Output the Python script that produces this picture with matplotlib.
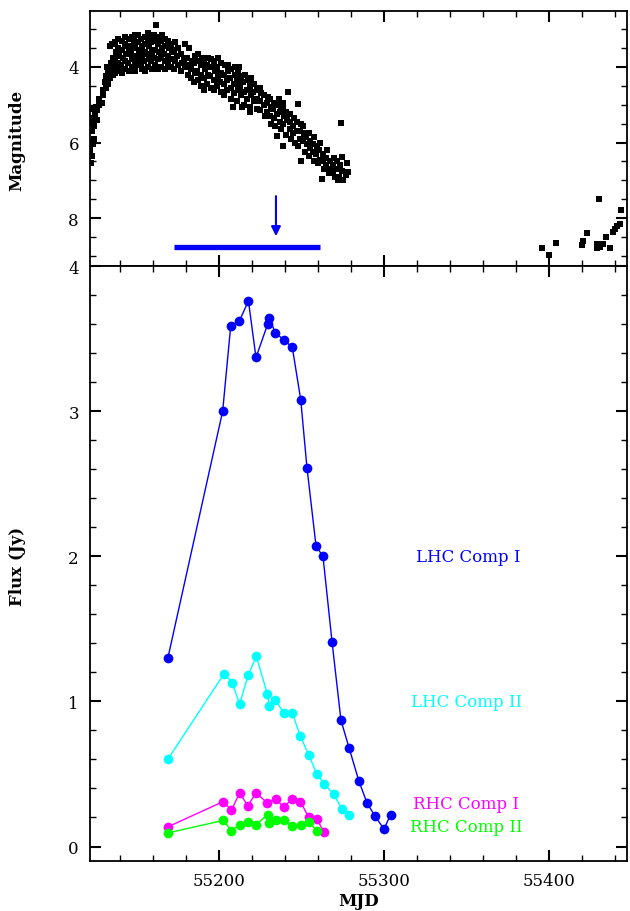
import numpy as np
import matplotlib.pyplot as plt
from matplotlib.ticker import MultipleLocator, FixedLocator

plt.rcParams['font.family'] = ['DejaVu Serif']

# optical light curve (MJD, magnitude)
rise_pts = [
    (55122.1, 6.55), (55121.9, 6.2), (55122.6, 5.95), (55122.3, 5.5),
    (55123.1, 6.35), (55123.4, 6.05), (55122.9, 5.7), (55123.6, 5.35), (55123.2, 5.1),
    (55124.5, 5.9), (55124.2, 5.55), (55124.9, 5.25), (55125.3, 5.05),
    (55126.1, 5.4), (55125.8, 5.15), (55127.5, 5.0), (55127.2, 4.85),
    (55129.3, 4.95), (55129.8, 4.75), (55129.6, 4.6),
    (55131.2, 4.55), (55130.7, 4.4), (55131.4, 4.25),
    (55132.4, 4.45), (55132.8, 4.15), (55132.3, 4.0),
    (55134.1, 4.3), (55133.8, 4.05), (55134.4, 3.9), (55134.2, 3.45),
    (55135.6, 4.2), (55135.3, 3.95), (55135.9, 3.75), (55135.4, 3.4),
]
peak_pts = [
    (55137.0, 4.15), (55137.4, 4.0), (55136.8, 3.85), (55137.6, 3.6), (55137.2, 3.35),
    (55139.1, 4.1), (55138.7, 3.9), (55139.4, 3.7), (55139.0, 3.5), (55138.8, 3.25),
    (55141.2, 4.15), (55140.8, 3.95), (55141.5, 3.75), (55141.0, 3.55), (55141.3, 3.3),
    (55143.1, 4.05), (55142.7, 3.85), (55143.4, 3.65), (55143.0, 3.4), (55142.8, 3.2),
    (55145.2, 4.1), (55144.8, 3.9), (55145.4, 3.6), (55145.0, 3.45), (55145.3, 3.25),
    (55147.0, 4.0), (55147.3, 3.8), (55146.8, 3.65), (55147.5, 3.45), (55147.1, 3.2),
    (55149.2, 4.1), (55148.8, 3.85), (55149.4, 3.7), (55149.0, 3.5), (55148.7, 3.3), (55149.3, 3.15),
    (55151.1, 3.95), (55150.8, 3.75), (55151.4, 3.55), (55151.0, 3.35), (55150.7, 3.15),
    (55153.2, 4.05), (55152.9, 3.9), (55153.4, 3.7), (55153.0, 3.45), (55152.8, 3.25),
    (55155.1, 4.1), (55154.8, 3.85), (55155.3, 3.6), (55155.0, 3.4), (55155.4, 3.2),
    (55157.0, 4.0), (55157.3, 3.8), (55156.8, 3.65), (55157.5, 3.45), (55157.1, 3.25), (55156.9, 3.1),
    (55159.2, 4.05), (55158.8, 3.85), (55159.4, 3.6), (55159.0, 3.35), (55158.7, 3.2),
    (55161.1, 3.95), (55160.8, 3.75), (55161.4, 3.55), (55161.0, 3.3), (55160.7, 3.15),
    (55162.0, 2.9),
    (55163.2, 4.05), (55162.9, 3.8), (55163.4, 3.6), (55163.0, 3.4), (55162.8, 3.2),
    (55165.1, 4.0), (55164.8, 3.75), (55165.3, 3.5), (55165.0, 3.3), (55165.4, 3.15),
    (55167.0, 4.05), (55167.3, 3.85), (55166.8, 3.65), (55167.5, 3.45), (55167.1, 3.25),
    (55169.2, 3.95), (55168.8, 3.7), (55169.4, 3.5), (55169.0, 3.3),
    (55171.1, 4.0), (55170.8, 3.8), (55171.4, 3.6), (55171.0, 3.4),
    (55173.0, 4.05), (55173.3, 3.85), (55172.8, 3.55), (55173.4, 3.35),
    (55175.1, 3.95), (55174.8, 3.7), (55175.4, 3.5),
    (55177.0, 4.1), (55177.3, 3.9), (55176.8, 3.65),
    (55179.2, 4.0), (55178.8, 3.8), (55179.4, 3.4),
    (55181.0, 4.2), (55181.3, 3.95), (55180.8, 3.75), (55181.5, 3.5),
    (55183.1, 4.3), (55182.8, 4.05), (55183.4, 3.85),
    (55185.0, 4.4), (55185.3, 4.15), (55184.8, 3.9), (55185.5, 3.7),
    (55187.2, 4.35), (55186.9, 4.1), (55187.4, 3.85), (55187.0, 3.65),
]
decline_pts = [
    (55189.0, 4.5), (55189.3, 4.2), (55188.8, 3.95), (55189.5, 3.75),
    (55191.1, 4.6), (55190.8, 4.3), (55191.4, 4.05), (55191.0, 3.8),
    (55193.0, 4.45), (55193.3, 4.2), (55192.8, 3.95), (55193.5, 3.75),
    (55195.1, 4.55), (55194.8, 4.25), (55195.4, 4.0), (55195.0, 3.8),
    (55197.2, 4.6), (55196.9, 4.35), (55197.4, 4.1), (55197.0, 3.85),
    (55199.0, 4.5), (55199.3, 4.25), (55198.8, 4.0), (55199.5, 3.75),
    (55201.1, 4.65), (55200.8, 4.4), (55201.4, 4.15), (55201.0, 3.9),
    (55203.0, 4.75), (55203.3, 4.45), (55202.8, 4.2), (55203.5, 3.95),
    (55205.1, 4.6), (55204.8, 4.35), (55205.4, 4.1), (55205.6, 3.95),
    (55207.0, 4.85), (55207.3, 4.55), (55206.8, 4.3), (55207.5, 4.05),
    (55209.1, 4.7), (55208.8, 4.45), (55209.4, 4.2), (55209.6, 4.0),
    (55208.5, 5.06),
    (55211.0, 4.9), (55211.3, 4.6), (55210.8, 4.35), (55211.5, 4.15), (55211.8, 4.0),
    (55213.1, 4.75), (55212.8, 4.5), (55213.4, 4.25),
    (55213.9, 5.06),
    (55215.0, 5.0), (55215.3, 4.65), (55214.8, 4.4), (55215.5, 4.2),
    (55217.1, 4.85), (55216.8, 4.6), (55217.4, 4.35),
    (55218.8, 5.19),
    (55219.0, 5.05), (55219.3, 4.75), (55218.7, 4.5), (55219.5, 4.3),
    (55221.1, 4.9), (55220.8, 4.65), (55221.4, 4.45),
    (55223.0, 5.1), (55223.3, 4.85), (55222.8, 4.6),
    (55225.1, 5.15), (55224.8, 4.9), (55225.4, 4.7), (55225.0, 4.55),
    (55227.0, 5.0), (55227.3, 4.75), (55227.6, 5.3),
    (55229.1, 5.2), (55228.8, 4.95), (55229.4, 4.8),
    (55231.0, 5.3), (55231.3, 5.05), (55230.8, 4.85), (55231.5, 5.5),
    (55233.1, 5.35), (55232.8, 5.1), (55233.4, 4.95), (55234.0, 5.55),
    (55235.0, 5.25), (55235.3, 5.0), (55235.1, 5.83), (55236.2, 4.85),
    (55237.1, 5.45), (55236.8, 5.2), (55237.4, 5.05), (55237.8, 5.65),
    (55238.8, 6.09), (55238.5, 4.95),
    (55239.0, 5.5), (55239.3, 5.3), (55238.7, 5.1),
    (55241.1, 5.4), (55240.8, 5.2), (55240.5, 5.8),
    (55241.8, 4.66),
    (55243.0, 5.65), (55243.3, 5.45), (55242.8, 5.25), (55243.5, 5.9),
    (55245.1, 5.75), (55244.8, 5.55), (55245.4, 5.35), (55246.0, 6.0),
    (55247.0, 5.7), (55247.3, 5.45), (55248.0, 6.1),
    (55247.9, 4.98),
    (55249.1, 5.9), (55248.8, 5.7), (55249.4, 5.5),
    (55249.7, 6.49),
    (55251.0, 5.95), (55251.3, 5.75), (55250.8, 5.55), (55252.0, 6.25),
    (55253.1, 6.05), (55252.8, 5.85), (55254.5, 6.35),
    (55255.0, 6.15), (55255.3, 5.95), (55254.8, 5.75),
    (55257.1, 6.25), (55256.8, 6.05), (55257.4, 5.85), (55257.5, 6.5),
    (55259.0, 6.3), (55259.3, 6.1), (55260.0, 6.55),
    (55261.1, 6.45), (55260.8, 6.2), (55261.4, 6.0),
    (55262.4, 6.97),
    (55263.0, 6.5), (55263.3, 6.3), (55263.8, 6.7),
    (55265.1, 6.6), (55264.8, 6.4), (55265.4, 6.2),
    (55267.0, 6.7), (55267.3, 6.5), (55266.5, 6.8),
    (55269.1, 6.8), (55268.8, 6.6), (55269.4, 6.4),
    (55271.0, 6.7), (55271.3, 6.5), (55270.0, 6.9),
    (55272.1, 6.99),
    (55273.0, 6.9), (55273.3, 6.6), (55273.9, 5.48),
    (55274.5, 6.39),
    (55275.1, 7.0), (55274.8, 6.75),
    (55277.0, 6.85), (55277.3, 6.55),
    (55278.2, 6.78),
]
late_pts = [
    (55395.6, 8.80), (55400.2, 8.98), (55404.2, 8.65),
    (55420.0, 8.71), (55420.8, 8.62), (55422.8, 8.40),
    (55429.0, 8.69), (55429.0, 8.80), (55430.1, 7.49), (55431.0, 8.76),
    (55433.0, 8.69), (55434.6, 8.51), (55437.0, 8.80), (55438.6, 8.38),
    (55440.0, 8.29), (55441.4, 8.21), (55443.0, 8.16), (55443.6, 7.79),
]

# maser peak flux densities (Jy)
lhc1_mjd = [55169.0, 55202.2, 55207.1, 55212.3, 55217.8, 55222.4, 55229.5, 55230.5,
            55234.1, 55239.4, 55244.4, 55249.5, 55253.3, 55258.8, 55263.0, 55268.5,
            55273.9, 55278.8, 55284.8, 55289.7, 55294.5, 55300.0, 55304.0]
lhc1_flux = [1.30, 3.00, 3.59, 3.62, 3.76, 3.37, 3.60, 3.64,
             3.54, 3.49, 3.44, 3.08, 2.61, 2.07, 2.00, 1.41,
             0.87, 0.68, 0.45, 0.30, 0.21, 0.12, 0.22]

lhc2_mjd = [55168.9, 55203.0, 55208.0, 55212.5, 55217.6, 55222.6, 55229.3, 55230.5,
            55234.0, 55239.4, 55244.4, 55249.3, 55254.4, 55259.2, 55263.8, 55269.5,
            55274.5, 55279.0]
lhc2_flux = [0.60, 1.19, 1.13, 0.98, 1.18, 1.31, 1.05, 0.97,
             1.01, 0.92, 0.92, 0.76, 0.63, 0.50, 0.43, 0.36,
             0.26, 0.22]

rhc1_mjd = [55168.9, 55202.6, 55207.5, 55212.5, 55217.4, 55222.4, 55229.3, 55234.4,
            55239.2, 55244.4, 55249.3, 55254.4, 55259.2, 55263.6]
rhc1_flux = [0.135, 0.31, 0.25, 0.37, 0.28, 0.37, 0.30, 0.33,
             0.27, 0.33, 0.31, 0.20, 0.19, 0.10]

rhc2_mjd = [55169.1, 55202.6, 55207.5, 55212.5, 55217.4, 55222.4, 55229.5, 55230.5,
            55234.4, 55239.4, 55244.4, 55249.5, 55254.4, 55259.2]
rhc2_flux = [0.094, 0.18, 0.11, 0.15, 0.17, 0.15, 0.22, 0.16,
             0.18, 0.18, 0.14, 0.15, 0.17, 0.11]

# observing window and marker
span_mjd = [55172.7, 55261.0]
span_mag = 8.77
arrow_mjd = 55234.5
arrow_mag = [7.42, 8.48]

labels = ['LHC Comp I', 'LHC Comp II', 'RHC Comp I', 'RHC Comp II']
label_pos = [(55350.9, 2.0), (55350.3, 1.0), (55349.7, 0.297), (55349.7, 0.138)]
colors = ['#0000ff', '#00ffff', '#ff00ff', '#00ff00']

fig = plt.figure(figsize=(6.3, 9.12), dpi=100)
ax1 = fig.add_axes([0.1429, 0.7072, 0.8524, 0.2796])
ax2 = fig.add_axes([0.1429, 0.0548, 0.8524, 0.6524])

opt = rise_pts + peak_pts + decline_pts + late_pts
opt_mjd = [p[0] for p in opt]
opt_mag = [p[1] for p in opt]
ax1.plot(opt_mjd, opt_mag, 's', color='black', ms=4.6, mew=0)
ax1.plot(span_mjd, [span_mag, span_mag], color='#0000ff', lw=3.8, solid_capstyle='butt')
ax1.annotate('', xy=(arrow_mjd, arrow_mag[1]), xytext=(arrow_mjd, arrow_mag[0]),
             arrowprops=dict(arrowstyle='-|>', color='#0000ff', lw=1.5,
                             mutation_scale=14, shrinkA=0, shrinkB=0))
ax1.set_ylim(9.27, 2.52)
ax1.yaxis.set_major_locator(FixedLocator([4, 6, 8]))
ax1.yaxis.set_minor_locator(MultipleLocator(0.5))
ax1.tick_params(labelbottom=False)

series = [(lhc1_mjd, lhc1_flux), (lhc2_mjd, lhc2_flux),
          (rhc1_mjd, rhc1_flux), (rhc2_mjd, rhc2_flux)]
for (x, y), c in zip(series, colors):
    ax2.plot(x, y, '-o', color=c, lw=1.0, ms=7, mew=0)
for txt, (x, y), c in zip(labels, label_pos, colors):
    ax2.text(x, y, txt, color=c, fontsize=12, ha='center', va='center')
ax2.set_ylim(-0.1, 4.0)
ax2.yaxis.set_major_locator(MultipleLocator(1))
ax2.yaxis.set_minor_locator(MultipleLocator(0.2))

for ax in (ax1, ax2):
    ax.set_xlim(55121.8, 55447.3)
    ax.xaxis.set_major_locator(MultipleLocator(100))
    ax.xaxis.set_minor_locator(MultipleLocator(20))
    ax.tick_params(which='both', direction='in', top=True, right=True, labelsize=12, pad=8)
    ax.tick_params(which='major', length=8, width=1.5)
    ax.tick_params(which='minor', length=4, width=1.0)
    for s in ax.spines.values():
        s.set_linewidth(1.3)

fig.text(17 / 630, 1 - 140 / 912, 'Magnitude', rotation=90, ha='center', va='center',
         fontsize=12, fontweight='bold')
fig.text(17 / 630, 1 - 566 / 912, 'Flux (Jy)', rotation=90, ha='center', va='center',
         fontsize=12, fontweight='bold')
fig.text(0.5 * (90 + 627) / 630, 1 - 902 / 912, 'MJD', ha='center', va='center',
         fontsize=12, fontweight='bold')

fig.savefig('out.png', dpi=100)
